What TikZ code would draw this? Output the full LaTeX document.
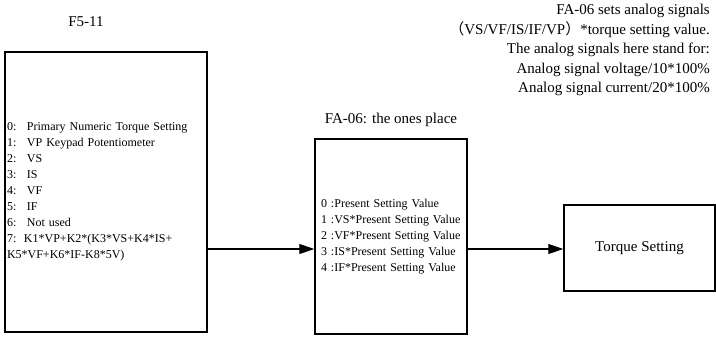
\documentclass[tikz,border=0pt]{standalone}
\usepackage{fontspec}
\setmainfont{Liberation Serif}
\newfontfamily\cjkfont{Noto Sans CJK SC}
\usetikzlibrary{arrows.meta}
\begin{document}
\begin{tikzpicture}[x=1pt,y=-1pt,
  box/.style={draw,line width=1.5pt,inner sep=0pt},
  conn/.style={line width=1.2pt,-{Triangle[length=15pt,width=10pt]}},
  big/.style={font=\fontsize{15}{19.5}\selectfont,inner sep=0pt},
  small/.style={font=\fontsize{12}{16}\selectfont}]
\useasboundingbox (0,0) rectangle (716,338);
% titles
\node[big] (t1) at (86,22) {F5-11};
\node[big] (t2) at (391,120) {FA-06: the ones place};
\node[big,anchor=north east,align=right] (note) at (710,4) {FA-06 sets analog signals\\
{\cjkfont （}VS/VF/IS/IF/VP{\cjkfont ）}*torque setting value.\\
The analog signals here stand for:\\
Analog signal voltage/10*100\%\\
Analog signal current/20*100\%};
% boxes
\node[box,small,minimum width=202pt,minimum height=280pt,text width=198pt,inner xsep=2pt,align=left] (f511) at (106,192) {%
\makebox[20pt][l]{0:}Primary Numeric Torque Setting\\
\makebox[20pt][l]{1:}VP Keypad Potentiometer\\
\makebox[20pt][l]{2:}VS\\
\makebox[20pt][l]{3:}IS\\
\makebox[20pt][l]{4:}VF\\
\makebox[20pt][l]{5:}IF\\
\makebox[20pt][l]{6:}Not used\\
\makebox[17pt][l]{7:}K1*VP+K2*(K3*VS+K4*IS+\\
K5*VF+K6*IF-K8*5V)};
\node[box,small,minimum width=152pt,minimum height=195pt,text width=140pt,inner xsep=6pt,align=left] (fa06) at (391,236.5) {%
0 :Present Setting Value\\
1 :VS*Present Setting Value\\
2 :VF*Present Setting Value\\
3 :IS*Present Setting Value\\
4 :IF*Present Setting Value};
\node[box,big,minimum width=151pt,minimum height=86pt] (torque) at (639.5,248) {Torque Setting};
% connectors
\draw[conn] (f511.east |- 0,249) -- (fa06.west |- 0,249);
\draw[conn] (fa06.east |- 0,249) -- (torque.west |- 0,249);
\end{tikzpicture}
\end{document}
